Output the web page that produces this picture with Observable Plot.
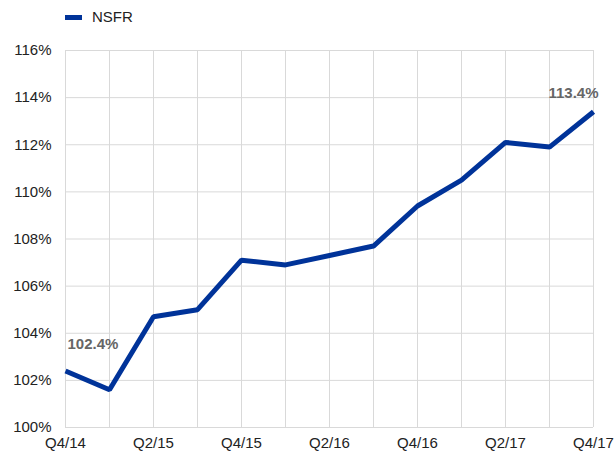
<!DOCTYPE html>
<html><head><meta charset="utf-8">
<script src="https://cdn.jsdelivr.net/npm/d3@7"></script>
<script src="https://cdn.jsdelivr.net/npm/@observablehq/plot@0.6"></script>
<style>
body{margin:0;background:#fff;font-family:"Liberation Sans",Arial,sans-serif;}
#legend{height:34px;position:relative;font-size:15px;color:#222;}
#legend .sw{position:absolute;left:65px;top:15px;width:17px;height:5px;background:#003399;}
#legend .lb{position:absolute;left:92px;top:8px;}
</style></head>
<body>
<div id="legend"><span class="sw"></span><span class="lb">NSFR</span></div>
<div id="chart"></div>
<script>
const quarters = ["Q4/14","Q1/15","Q2/15","Q3/15","Q4/15","Q1/16","Q2/16","Q3/16","Q4/16","Q1/17","Q2/17","Q3/17","Q4/17"];
const nsfr = [102.4,101.6,104.7,105.0,107.1,106.9,107.3,107.7,109.4,110.5,112.1,111.9,113.4];
const xTickLabels = ["Q4/14","Q2/15","Q4/15","Q2/16","Q4/16","Q2/17","Q4/17"];
const yTicks = [100,102,104,106,108,110,112,114,116];

const data = quarters.map((q,i)=>({q, v:nsfr[i]}));
const first = data[0], last = data[data.length-1];

const chart = Plot.plot({
  width: 616, height: 420,
  marginTop: 16, marginBottom: 27, marginLeft: 65, marginRight: 23,
  style: {fontFamily: '"Liberation Sans", Arial, sans-serif', fontSize: "15px", color: "#222"},
  x: {type: "point", domain: quarters, padding: 0},
  y: {domain: [100,116]},
  marks: [
    Plot.gridX(quarters, {stroke: "#d9d9d9", strokeOpacity: 1}),
    Plot.gridY(yTicks, {stroke: "#d9d9d9", strokeOpacity: 1}),
    Plot.axisX(xTickLabels, {tickSize: 0, tickPadding: 10, fontSize: 15, fill: "#222", label: null}),
    Plot.axisY(yTicks, {tickSize: 0, tickPadding: 14, fontSize: 15, fill: "#222", label: null, tickFormat: d => d + "%"}),
    Plot.line(data, {x: "q", y: "v", stroke: "#003399", strokeWidth: 5, strokeLinejoin: "miter", strokeLinecap: "butt"}),
    Plot.text([first], {x: "q", y: "v", text: d => d.v.toFixed(1) + "%", textAnchor: "start", dx: 2, dy: -27, fontWeight: "bold", fontSize: 15, fill: "#666"}),
    Plot.text([last], {x: "q", y: "v", text: d => d.v.toFixed(1) + "%", textAnchor: "end", dx: 5, dy: -19, fontWeight: "bold", fontSize: 15, fill: "#666"})
  ]
});
document.getElementById("chart").appendChild(chart);
</script>
</body></html>
